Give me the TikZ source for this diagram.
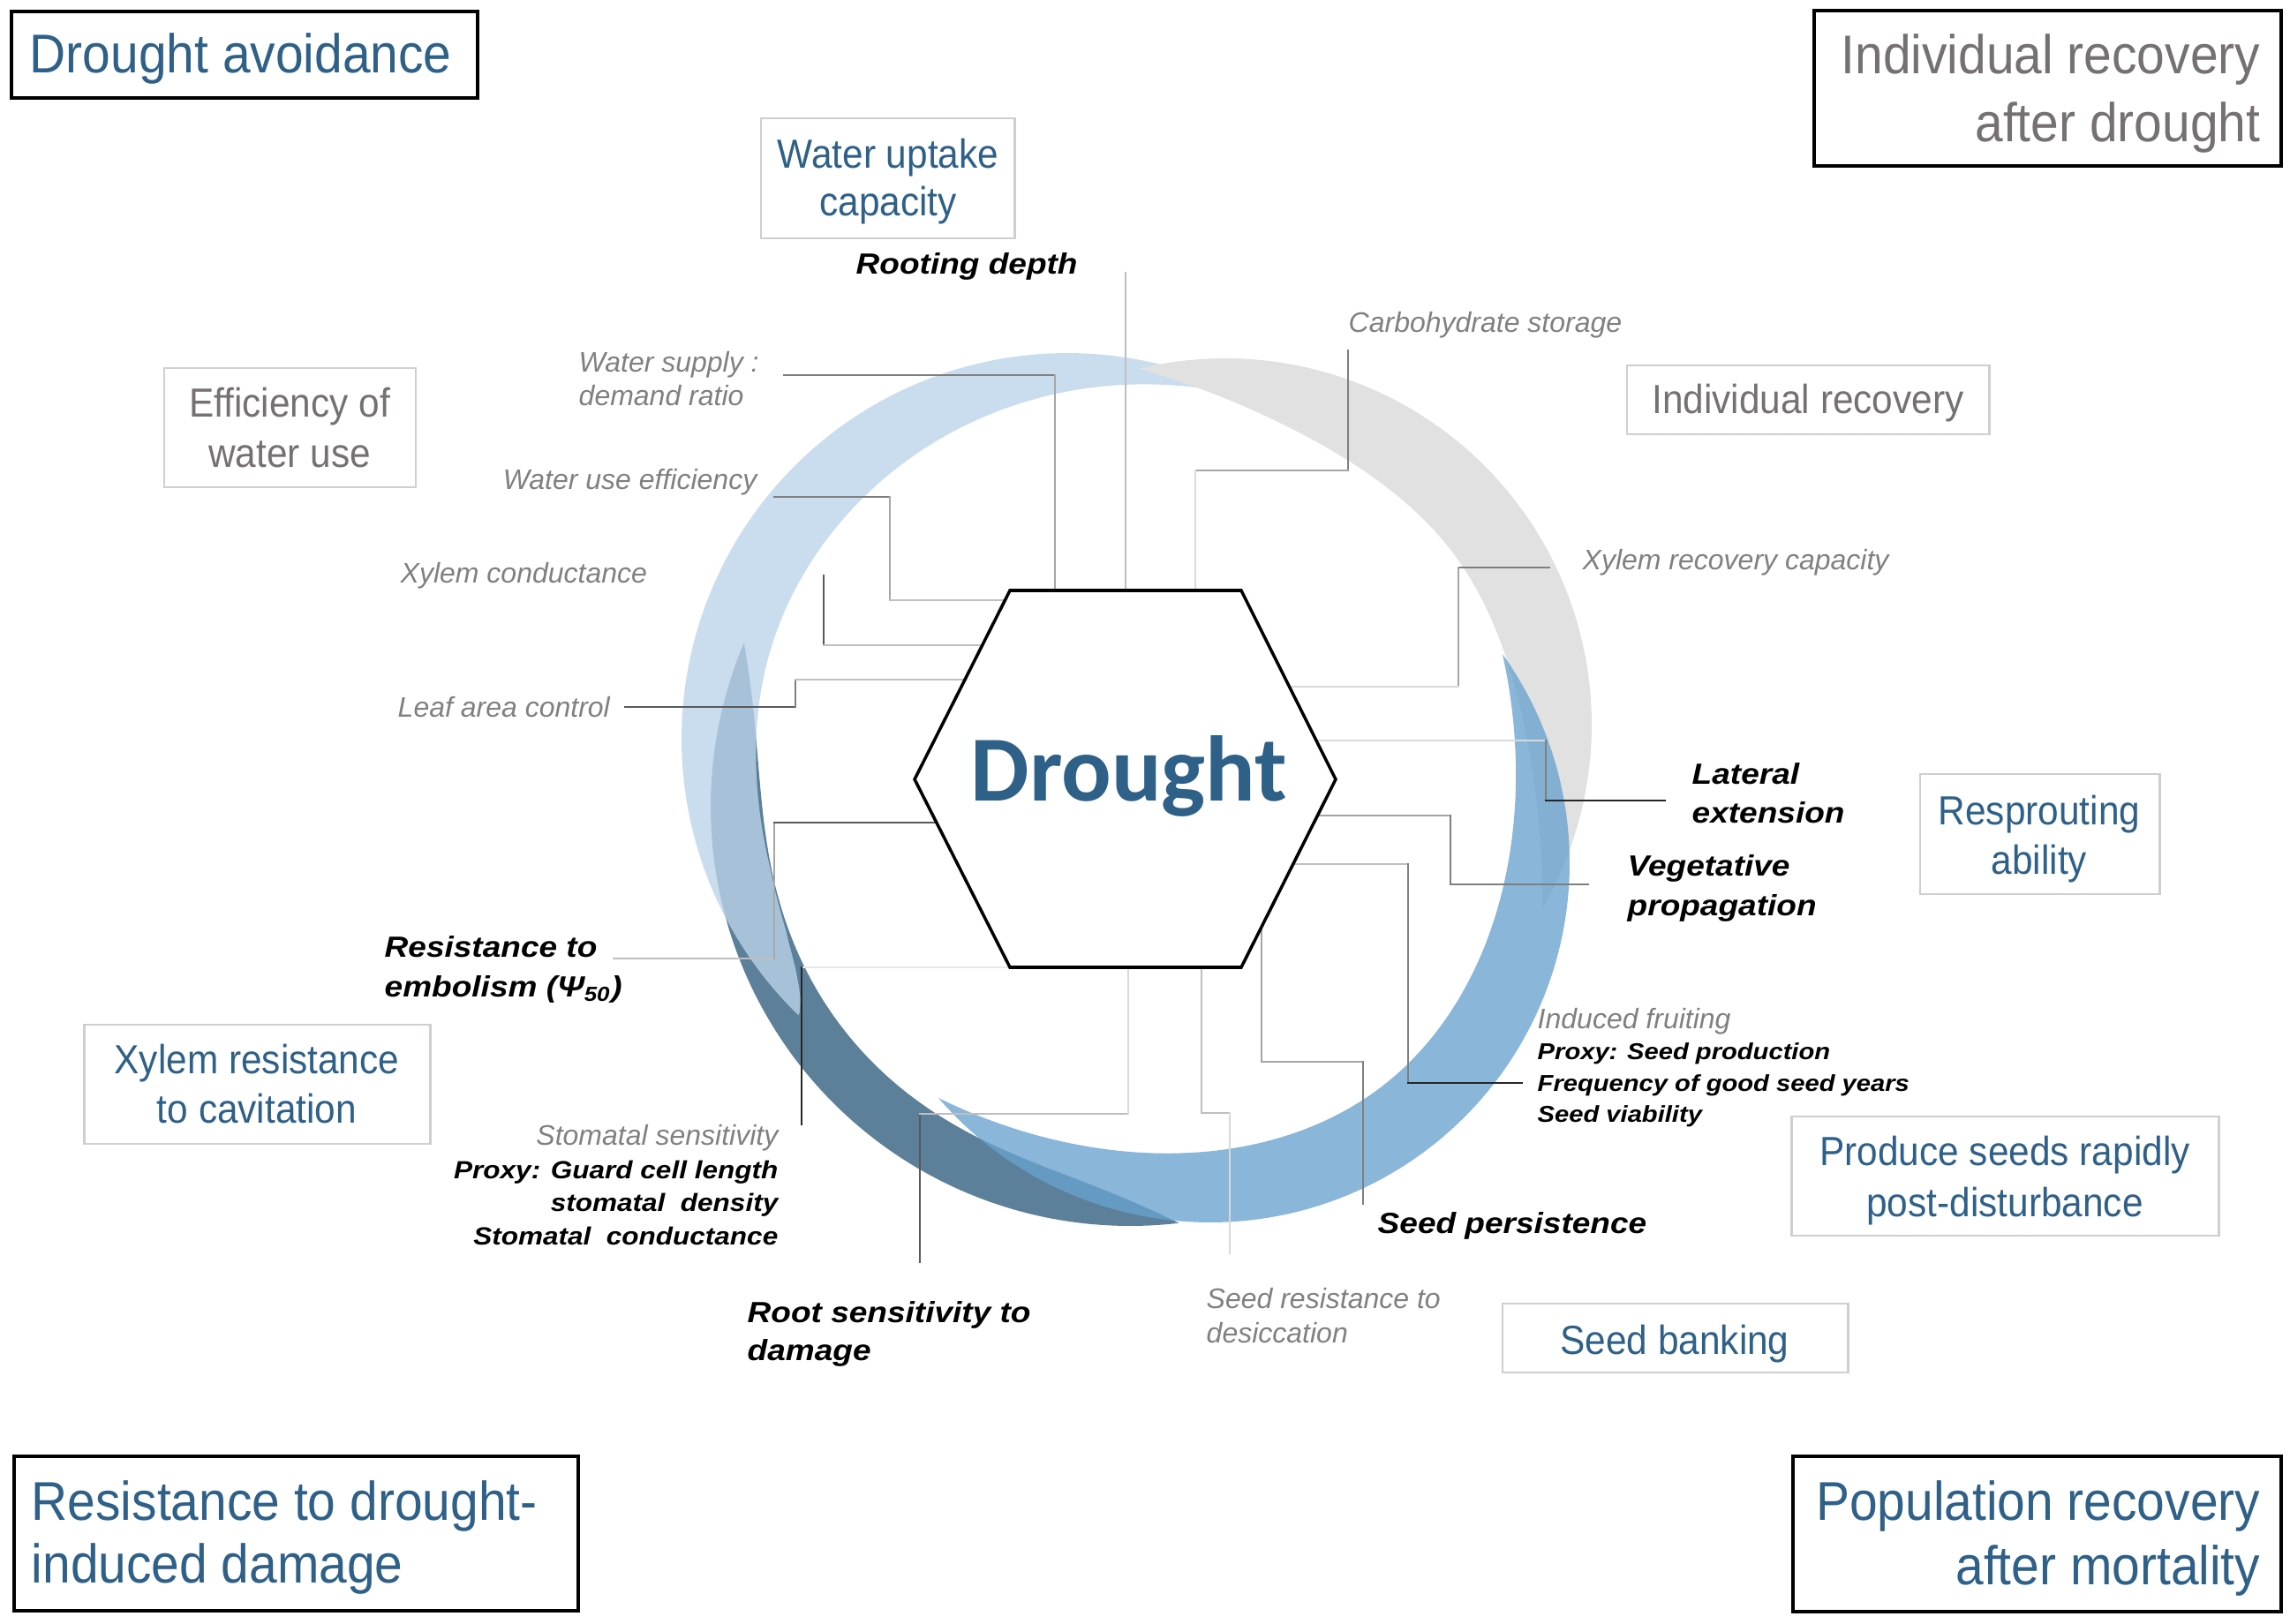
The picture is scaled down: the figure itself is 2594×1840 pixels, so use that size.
\documentclass[tikz,border=0pt]{standalone}
\usepackage{fontspec}
\setmainfont{Liberation Sans}
\newfontfamily\boxfont[FakeStretch=0.92]{Liberation Sans}
\newfontfamily\bifont[FakeStretch=1.12]{Liberation Sans}
\newfontfamily\gifont{Liberation Sans}
\newfontfamily\drfont{Carlito}
\usetikzlibrary{calc}
\definecolor{txtblue}{RGB}{46,96,136}
\definecolor{txtgray}{RGB}{118,113,113}
\definecolor{lblgray}{RGB}{128,128,128}
\definecolor{boxgray}{RGB}{208,206,206}
\definecolor{ringdark}{RGB}{93,128,154}
\definecolor{ringlight}{RGB}{188,212,233}
\definecolor{ringgray}{RGB}{225,225,225}
\definecolor{ringmid}{RGB}{104,162,206}
\definecolor{ca}{RGB}{38,38,38}
\definecolor{cb}{RGB}{89,89,89}
\definecolor{cc}{RGB}{127,127,127}
\definecolor{cd}{RGB}{166,166,166}
\definecolor{ce}{RGB}{191,191,191}
\definecolor{cf}{RGB}{217,217,217}
\begin{document}
\begin{tikzpicture}[x=0.01cm, y=-0.01cm,
  hdrbox/.style={draw=black, line width=1pt, rectangle, inner sep=0pt},
  subbox/.style={draw=boxgray, line width=0.8pt, rectangle, inner sep=0pt},
  hdrtxt/.style={font=\boxfont\fontsize{17.6}{21}\selectfont, inner sep=0pt},
  subtxt/.style={font=\boxfont\fontsize{13.1}{16}\selectfont, inner sep=0pt, anchor=base},
  bilbl/.style={font=\bifont\bfseries\itshape\fontsize{9.4}{11}\selectfont, inner sep=0pt, text=black, anchor=base west},
  bismA/.style={font=\bifont\bfseries\itshape\fontsize{8}{10}\selectfont, inner sep=0pt, text=black, anchor=base east},
  bismB/.style={font=\bifont\bfseries\itshape\fontsize{7.4}{9}\selectfont, inner sep=0pt, text=black, anchor=base west},
  gilbl/.style={font=\gifont\itshape\fontsize{9.1}{11}\selectfont, inner sep=0pt, text=lblgray},
  conn/.style={line width=0.6pt, line cap=rect},
  hexsty/.style={draw=black, line width=1pt, fill=white, line join=miter},
]
\useasboundingbox (0,0) rectangle (2594,1840);

% ---------------- rings (crescents: outer circle arc + tapered inner edge) ----------------
% dark blue (lower left)
\fill[ringdark]
  plot[domain=83.3:203, samples=120, variable=\t] ({1280+475*cos(\t)},{914+475*sin(\t)})
  -- plot[domain=0:1, samples=120, variable=\u]
     ({1280+(475-64*(1-pow(abs(1-2*\u),5)))*cos(83.3+119.7*(1-\u))},
      {914+(475-64*(1-pow(abs(1-2*\u),5)))*sin(83.3+119.7*(1-\u))}) -- cycle;
% light blue (upper left)
\fill[ringlight, fill opacity=0.79]
  plot[domain=134.2:297.4, samples=120, variable=\t] ({1209+437*cos(\t)},{837+437*sin(\t)})
  -- plot[domain=0:1, samples=120, variable=\u]
     ({1209+(437-86*(1-exp(2.5*ln(abs(2*exp(0.716*ln(1.0001-\u))-1)+0.00001))))*cos(134.2+163.2*(1-\u))},
      {837+(437-86*(1-exp(2.5*ln(abs(2*exp(0.716*ln(1.0001-\u))-1)+0.00001))))*sin(134.2+163.2*(1-\u))}) -- cycle;
% grey (upper right)
\fill[ringgray]
  plot[domain=-103.6:30, samples=120, variable=\t] ({1388+415*cos(\t)},{821+415*sin(\t)})
  -- plot[domain=0:1, samples=120, variable=\u]
     ({1388+(415-92*(1-pow(abs(1-2*\u),3)))*cos(-103.6+133.6*(1-\u))},
      {821+(415-92*(1-pow(abs(1-2*\u),3)))*sin(-103.6+133.6*(1-\u))}) -- cycle;
% medium blue (lower right)
\fill[ringmid, fill opacity=0.78]
  plot[domain=-35.6:139.2, samples=120, variable=\t] ({1371+407*cos(\t)},{978+407*sin(\t)})
  -- plot[domain=0:1, samples=120, variable=\u]
     ({1371+(407-88*(1-pow(abs(1-2*\u),3)))*cos(-35.6+174.8*(1-\u))},
      {978+(407-88*(1-pow(abs(1-2*\u),3)))*sin(-35.6+174.8*(1-\u))}) -- cycle;

% ---------------- hexagon vertices ----------------
\coordinate (hTL) at (1144,669); \coordinate (hTR) at (1406,669);
\coordinate (hR) at (1513,883);  \coordinate (hBR) at (1406,1096);
\coordinate (hBL) at (1144,1096); \coordinate (hL) at (1036,883);

% ---------------- connectors ----------------
% Rooting depth
\coordinate (kRd) at (1275,309); \coordinate (kRdH) at (1275,669);
\draw[conn, draw=ce] (kRd) -- (kRdH);
% Water supply : demand ratio
\coordinate (kWs) at (888,425); \coordinate (kWs1) at (1195,425); \coordinate (kWsH) at (1195,669);
\draw[conn, draw=cc] (kWs) -- (kWs1);
\draw[conn, draw=cd] (kWs1) -- (kWsH);
% Water use efficiency
\coordinate (kWu) at (877,563); \coordinate (kWu1) at (1008,563); \coordinate (kWu2) at (1008,680); \coordinate (kWuH) at (1138,680);
\draw[conn, draw=cc] (kWu) -- (kWu1);
\draw[conn, draw=cd] (kWu1) -- (kWu2);
\draw[conn, draw=ce] (kWu2) -- (kWuH);
% Xylem conductance
\coordinate (kXc) at (933,652); \coordinate (kXc1) at (933,731); \coordinate (kXcH) at (1113,731);
\draw[conn, draw=cb] (kXc) -- (kXc1);
\draw[conn, draw=ce] (kXc1) -- (kXcH);
% Leaf area control
\coordinate (kLa) at (708,801); \coordinate (kLa1) at (901,801); \coordinate (kLa2) at (901,770); \coordinate (kLaH) at (1093,770);
\draw[conn, draw=cb] (kLa) -- (kLa1);
\draw[conn, draw=cc] (kLa1) -- (kLa2);
\draw[conn, draw=ce] (kLa2) -- (kLaH);
% Resistance to embolism
\coordinate (kEm) at (695,1086); \coordinate (kEm1) at (877,1086); \coordinate (kEm2) at (877,932); \coordinate (kEmH) at (1061,932);
\draw[conn, draw=ce] (kEm) -- (kEm1);
\draw[conn, draw=cd] (kEm1) -- (kEm2);
\draw[conn, draw=cb] (kEm2) -- (kEmH);
% Stomatal sensitivity
\coordinate (kSt1) at (908,1096); \coordinate (kSt) at (908,1274);
\draw[conn, draw=black!9] (hBL) -- (kSt1);
\draw[conn, draw=ca] (kSt1) -- (kSt);
% Root sensitivity to damage
\coordinate (kRo) at (1042,1430); \coordinate (kRo1) at (1042,1262); \coordinate (kRo2) at (1278,1262); \coordinate (kRoH) at (1278,1096);
\draw[conn, draw=cb] (kRo) -- (kRo1);
\draw[conn, draw=ce] (kRo1) -- (kRo2);
\draw[conn, draw=cf] (kRo2) -- (kRoH);
% Seed resistance to desiccation
\coordinate (kSrH) at (1361,1096); \coordinate (kSr1) at (1361,1261); \coordinate (kSr2) at (1393,1261); \coordinate (kSr) at (1393,1420);
\draw[conn, draw=ce] (kSrH) -- (kSr1) -- (kSr2);
\draw[conn, draw=cf] (kSr2) -- (kSr);
% Seed persistence
\coordinate (kSpH) at (1429,1050); \coordinate (kSp1) at (1429,1203); \coordinate (kSp2) at (1544,1203); \coordinate (kSp) at (1544,1364);
\draw[conn, draw=cd] (kSpH) -- (kSp1) -- (kSp2);
\draw[conn, draw=cc] (kSp2) -- (kSp);
% Induced fruiting
\coordinate (kIfH) at (1465,979); \coordinate (kIf1) at (1595,979); \coordinate (kIf2) at (1595,1227); \coordinate (kIf) at (1724,1227);
\draw[conn, draw=ce] (kIfH) -- (kIf1);
\draw[conn, draw=cc] (kIf1) -- (kIf2);
\draw[conn, draw=ca] (kIf2) -- (kIf);
% Vegetative propagation
\coordinate (kVpH) at (1492,924); \coordinate (kVp1) at (1643,924); \coordinate (kVp2) at (1643,1002); \coordinate (kVp) at (1799,1002);
\draw[conn, draw=cd] (kVpH) -- (kVp1);
\draw[conn, draw=cc] (kVp1) -- (kVp2) -- (kVp);
% Lateral extension
\coordinate (kLeH) at (1491,839); \coordinate (kLe1) at (1751,839); \coordinate (kLe2) at (1751,907); \coordinate (kLe) at (1886,907);
\draw[conn, draw=cf] (kLeH) -- (kLe1);
\draw[conn, draw=cc] (kLe1) -- (kLe2);
\draw[conn, draw=ca] (kLe2) -- (kLe);
% Xylem recovery capacity
\coordinate (kXr) at (1755,643); \coordinate (kXr1) at (1652,643); \coordinate (kXr2) at (1652,778); \coordinate (kXrH) at (1461,778);
\draw[conn, draw=cc] (kXr) -- (kXr1);
\draw[conn, draw=cd] (kXr1) -- (kXr2);
\draw[conn, draw=cf] (kXr2) -- (kXrH);
% Carbohydrate storage
\coordinate (kCs) at (1527,397); \coordinate (kCs1) at (1527,533); \coordinate (kCs2) at (1354,533); \coordinate (kCsH) at (1354,669);
\draw[conn, draw=cc] (kCs) -- (kCs1);
\draw[conn, draw=cd] (kCs1) -- (kCs2);
\draw[conn, draw=cf] (kCs2) -- (kCsH);

% ---------------- hexagon ----------------
\draw[hexsty] (hTL) -- (hTR) -- (hR) -- (hBR) -- (hBL) -- (hL) -- cycle;
\node[font=\drfont\bfseries\fontsize{30}{36}\selectfont, text=txtblue, inner sep=0pt, anchor=base] (drought) at (1279,907) {Drought};

% ---------------- header boxes ----------------
\node[hdrbox, minimum width=5.28cm, minimum height=0.98cm] (boxA) at (277,62) {};
\node[hdrbox, minimum width=5.29cm, minimum height=1.76cm] (boxB) at (2319.5,100) {};
\node[hdrbox, minimum width=6.39cm, minimum height=1.75cm] (boxC) at (335.5,1737.5) {};
\node[hdrbox, minimum width=5.53cm, minimum height=1.76cm] (boxD) at (2307.5,1738) {};
\node[hdrtxt, text=txtblue, anchor=base west] (tA) at (33,83) {Drought avoidance};
\node[hdrtxt, text=txtgray, anchor=base east] (tB1) at (2561,84) {Individual recovery};
\node[hdrtxt, text=txtgray, anchor=base east] (tB2) at (2561,161) {after drought};
\node[hdrtxt, text=txtblue, anchor=base west] (tC1) at (35,1722) {Resistance to drought-};
\node[hdrtxt, text=txtblue, anchor=base west] (tC2) at (35,1793) {induced damage};
\node[hdrtxt, text=txtblue, anchor=base east] (tD1) at (2561,1722) {Population recovery};
\node[hdrtxt, text=txtblue, anchor=base east] (tD2) at (2561,1795) {after mortality};

% ---------------- sub boxes ----------------
\node[subbox, minimum width=2.87cm, minimum height=1.36cm] (bWu) at (1005.5,202) {};
\node[subbox, minimum width=2.85cm, minimum height=1.35cm] (bEf) at (328.5,484.5) {};
\node[subbox, minimum width=4.10cm, minimum height=0.78cm] (bIr) at (2048,453) {};
\node[subbox, minimum width=2.71cm, minimum height=1.36cm] (bRs) at (2310.5,945) {};
\node[subbox, minimum width=3.91cm, minimum height=1.35cm] (bXr) at (291.5,1228.5) {};
\node[subbox, minimum width=4.83cm, minimum height=1.35cm] (bPs) at (2271.5,1332.5) {};
\node[subbox, minimum width=3.91cm, minimum height=0.78cm] (bSb) at (1897.5,1516) {};
\node[subtxt, text=txtblue] (sWu1) at (1006,191) {Water uptake};
\node[subtxt, text=txtblue] (sWu2) at (1006,245) {capacity};
\node[subtxt, text=txtgray] (sEf1) at (328,473) {Efficiency of};
\node[subtxt, text=txtgray] (sEf2) at (328,530) {water use};
\node[subtxt, text=txtgray] (sIr) at (2048,469) {Individual recovery};
\node[subtxt, text=txtblue] (sRs1) at (2310,934) {Resprouting};
\node[subtxt, text=txtblue] (sRs2) at (2310,990) {ability};
\node[subtxt, text=txtblue] (sXr1) at (291,1216) {Xylem resistance};
\node[subtxt, text=txtblue] (sXr2) at (291,1272) {to cavitation};
\node[subtxt, text=txtblue] (sPs1) at (2271,1320) {Produce seeds rapidly};
\node[subtxt, text=txtblue] (sPs2) at (2271,1378) {post-disturbance};
\node[subtxt, text=txtblue] (sSb) at (1897,1534) {Seed banking};

% ---------------- labels ----------------
\node[gilbl, anchor=base west] (lWs1) at (655,422) {Water supply :};
\node[gilbl, anchor=base west] (lWs2) at (655,460) {demand ratio};
\node[gilbl, anchor=base east] (lWu) at (858,555) {Water use efficiency};
\node[gilbl, anchor=base west] (lXc) at (453,661) {Xylem conductance};
\node[gilbl, anchor=base west] (lLa) at (450,812) {Leaf area control};
\node[gilbl, anchor=base east] (lSs) at (882,1297) {Stomatal sensitivity};
\node[gilbl, anchor=base west] (lSr1) at (1366,1482) {Seed resistance to};
\node[gilbl, anchor=base west] (lSr2) at (1366,1521) {desiccation};
\node[gilbl, anchor=base west] (lIf) at (1741,1165) {Induced fruiting};
\node[gilbl, anchor=base west] (lXr) at (1792,646) {Xylem recovery capacity};
\node[gilbl, anchor=base west] (lCs) at (1527,377) {Carbohydrate storage};

\node[bilbl] (lRd) at (969,311) {Rooting depth};
\node[bilbl] (lEm1) at (435,1084) {Resistance to};
\node[bilbl] (lEm2) at (435,1129) {embolism (Ψ\textsubscript{50})};
\node[bilbl] (lRo1) at (846,1498) {Root sensitivity to};
\node[bilbl] (lRo2) at (846,1541) {damage};
\node[bilbl] (lSp) at (1560,1397) {Seed persistence};
\node[bilbl] (lVp1) at (1843,992) {Vegetative};
\node[bilbl] (lVp2) at (1843,1037) {propagation};
\node[bilbl] (lLe1) at (1916,888) {Lateral};
\node[bilbl] (lLe2) at (1916,932) {extension};

\node[bismA] (lPg) at (882,1335) {Proxy: Guard cell length};
\node[bismA] (lSd) at (882,1372) {stomatal\ \ density};
\node[bismA] (lSc) at (882,1410) {Stomatal\ \ conductance};
\node[bismB] (lPx) at (1741,1200) {Proxy: Seed production};
\node[bismB] (lFg) at (1741,1236) {Frequency of good seed years};
\node[bismB] (lSv) at (1741,1271) {Seed viability};
\end{tikzpicture}
\end{document}
